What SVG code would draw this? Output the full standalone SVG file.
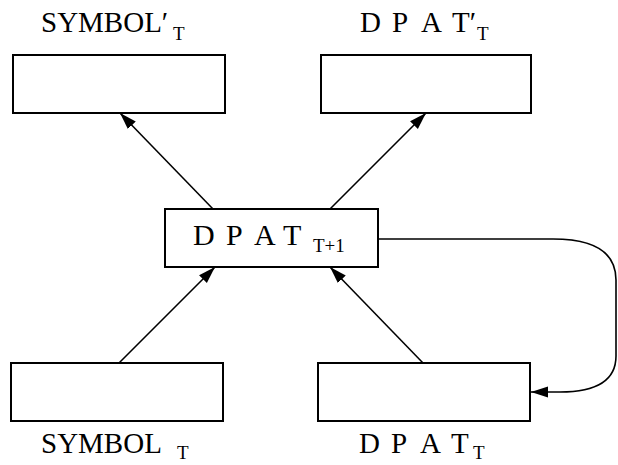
<svg xmlns="http://www.w3.org/2000/svg" width="618" height="465" viewBox="0 0 618 465">
<style>
.box{fill:#fff;stroke:#000;stroke-width:2}
.lbl{font-family:"Liberation Serif","Times New Roman",serif;font-size:29px;fill:#000}
.sub{font-family:"Liberation Serif","Times New Roman",serif;font-size:19px;fill:#000}
.edge{fill:none;stroke:#000;stroke-width:1.6}
</style>
<defs>
<marker id="arr" markerUnits="userSpaceOnUse" markerWidth="18" markerHeight="12" refX="17" refY="6" orient="auto">
<path d="M0,0.5 L17,6 L0,11.5 Z" fill="#000"/>
</marker>
</defs>
<rect width="618" height="465" fill="#fff"/>
<g id="connectors">
<line class="edge" x1="213" y1="209" x2="120" y2="113" marker-end="url(#arr)"/>
<line class="edge" x1="330" y1="209" x2="426" y2="113" marker-end="url(#arr)"/>
<line class="edge" x1="119" y1="363" x2="215" y2="267" marker-end="url(#arr)"/>
<line class="edge" x1="423" y1="363" x2="330" y2="267" marker-end="url(#arr)"/>
<path class="edge" d="M378,239 H553 C597,239 616,254 616,280 V356 C616,380 597,392 560,392 H531" marker-end="url(#arr)"/>
</g>
<g id="symbol-prime">
<rect class="box" x="13" y="55" width="212" height="58"/>
<text class="lbl" x="41" y="32">SYMBOL′</text>
<text class="sub" x="173" y="40">T</text>
</g>
<g id="dpat-prime">
<rect class="box" x="321" y="55" width="210" height="58"/>
<text class="lbl" y="32"><tspan x="360">D</tspan><tspan x="392">P</tspan><tspan x="421">A</tspan><tspan x="452">T′</tspan></text>
<text class="sub" x="477" y="40">T</text>
</g>
<g id="dpat-next">
<rect class="box" x="165" y="209" width="213" height="58"/>
<text class="lbl" y="245" style="font-size:30px"><tspan x="193">D</tspan><tspan x="226">P</tspan><tspan x="254">A</tspan><tspan x="283">T</tspan></text>
<text class="sub" x="313" y="252">T+1</text>
</g>
<g id="symbol">
<rect class="box" x="11" y="363" width="212" height="58"/>
<text class="lbl" x="41" y="453">SYMBOL</text>
<text class="sub" x="177" y="459">T</text>
</g>
<g id="dpat">
<rect class="box" x="318" y="363" width="212" height="58"/>
<text class="lbl" y="453"><tspan x="359">D</tspan><tspan x="391">P</tspan><tspan x="420">A</tspan><tspan x="451">T</tspan></text>
<text class="sub" x="473" y="459">T</text>
</g>
</svg>
